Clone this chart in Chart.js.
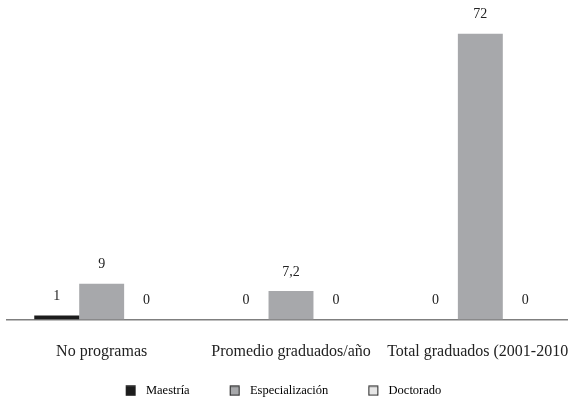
<!DOCTYPE html>
<html>
<head>
<meta charset="utf-8">
<script src="https://cdn.jsdelivr.net/npm/chart.js"></script>
<style>
  html, body { margin: 0; padding: 0; background: #fff; overflow: hidden; }
  #wrap { width: 576px; height: 400px; }
</style>
</head>
<body>
<div id="wrap"><canvas id="grafico"></canvas></div>
<script>
// categorias y series
const categorias = ['No programas', 'Promedio graduados/año', 'Total graduados (2001-2010)'];
const maestria = [1, 0, 0];
const especializacion = [9, 7.2, 72];
const doctorado = [0, 0, 0];

const serif = "'Liberation Serif', 'Times New Roman', serif";
const colores = ['#1c1c1c', '#a7a8ab', '#e6e6e6'];

// muestra de leyenda: cuadrito con borde, con aire a la izquierda
function swatch(color) {
  const c = document.createElement('canvas');
  c.width = 39;
  c.height = 11;
  const g = c.getContext('2d');
  g.fillStyle = color;
  g.fillRect(25, 0.5, 10, 10);
  g.strokeStyle = '#222';
  g.lineWidth = 1;
  g.strokeRect(25.5, 1, 9, 9);
  return c;
}

// etiquetas de valor encima de cada barra
const valueLabels = {
  id: 'valueLabels',
  afterDatasetsDraw(chart) {
    const ctx = chart.ctx;
    ctx.save();
    ctx.font = '14px ' + serif;
    ctx.fillStyle = '#222';
    ctx.textAlign = 'center';
    ctx.textBaseline = 'middle';
    chart.data.datasets.forEach((ds, i) => {
      chart.getDatasetMeta(i).data.forEach((bar, j) => {
        const txt = String(ds.data[j]).replace('.', ',');
        ctx.fillText(txt, bar.x, bar.y - 19);
      });
    });
    ctx.restore();
  }
};

// acomodar la leyenda donde esta en el original
const moveLegend = {
  id: 'moveLegend',
  afterLayout(chart) {
    const lg = chart.legend;
    lg.top += 7;
    lg.bottom += 7;
    lg.left -= 20;
    lg.right -= 20;
  }
};

new Chart(document.getElementById('grafico'), {
  type: 'bar',
  data: {
    labels: categorias,
    datasets: [
      { label: 'Maestría', data: maestria, backgroundColor: colores[0] },
      { label: 'Especialización', data: especializacion, backgroundColor: colores[1] },
      { label: 'Doctorado', data: doctorado, backgroundColor: colores[2] }
    ]
  },
  options: {
    responsive: true,
    maintainAspectRatio: false,
    animation: false,
    layout: { padding: { left: 7, right: 1, top: 10, bottom: 0 } },
    datasets: { bar: { categoryPercentage: 0.712, barPercentage: 1, borderWidth: 0 } },
    scales: {
      x: {
        grid: { display: false, drawTicks: false },
        border: { display: true, color: '#7f7f7f', width: 1.5 },
        ticks: {
          color: '#222',
          font: { family: serif, size: 16 },
          padding: 23,
          maxRotation: 0,
          autoSkip: false
        },
        // Chart.js reserves the tick padding twice; the original has no gap under the labels.
        // The last label is cut by the edge in the original, so no extra side room either.
        afterFit(scale) {
          scale.height = 43;
          scale.paddingLeft = 0;
          scale.paddingRight = 0;
        }
      },
      y: { display: false, min: 0, max: 78 }
    },
    plugins: {
      tooltip: { enabled: false },
      legend: {
        position: 'bottom',
        labels: {
          usePointStyle: true,
          pointStyleWidth: 39,
          boxHeight: 11,
          padding: 15,
          color: '#222',
          font: { family: serif, size: 12.5 },
          generateLabels(chart) {
            return chart.data.datasets.map((ds, i) => ({
              text: ds.label,
              pointStyle: swatch(ds.backgroundColor),
              fillStyle: ds.backgroundColor,
              strokeStyle: '#222',
              lineWidth: 0,
              datasetIndex: i,
              hidden: false
            }));
          }
        }
      }
    }
  },
  plugins: [valueLabels, moveLegend]
});
</script>
</body>
</html>
